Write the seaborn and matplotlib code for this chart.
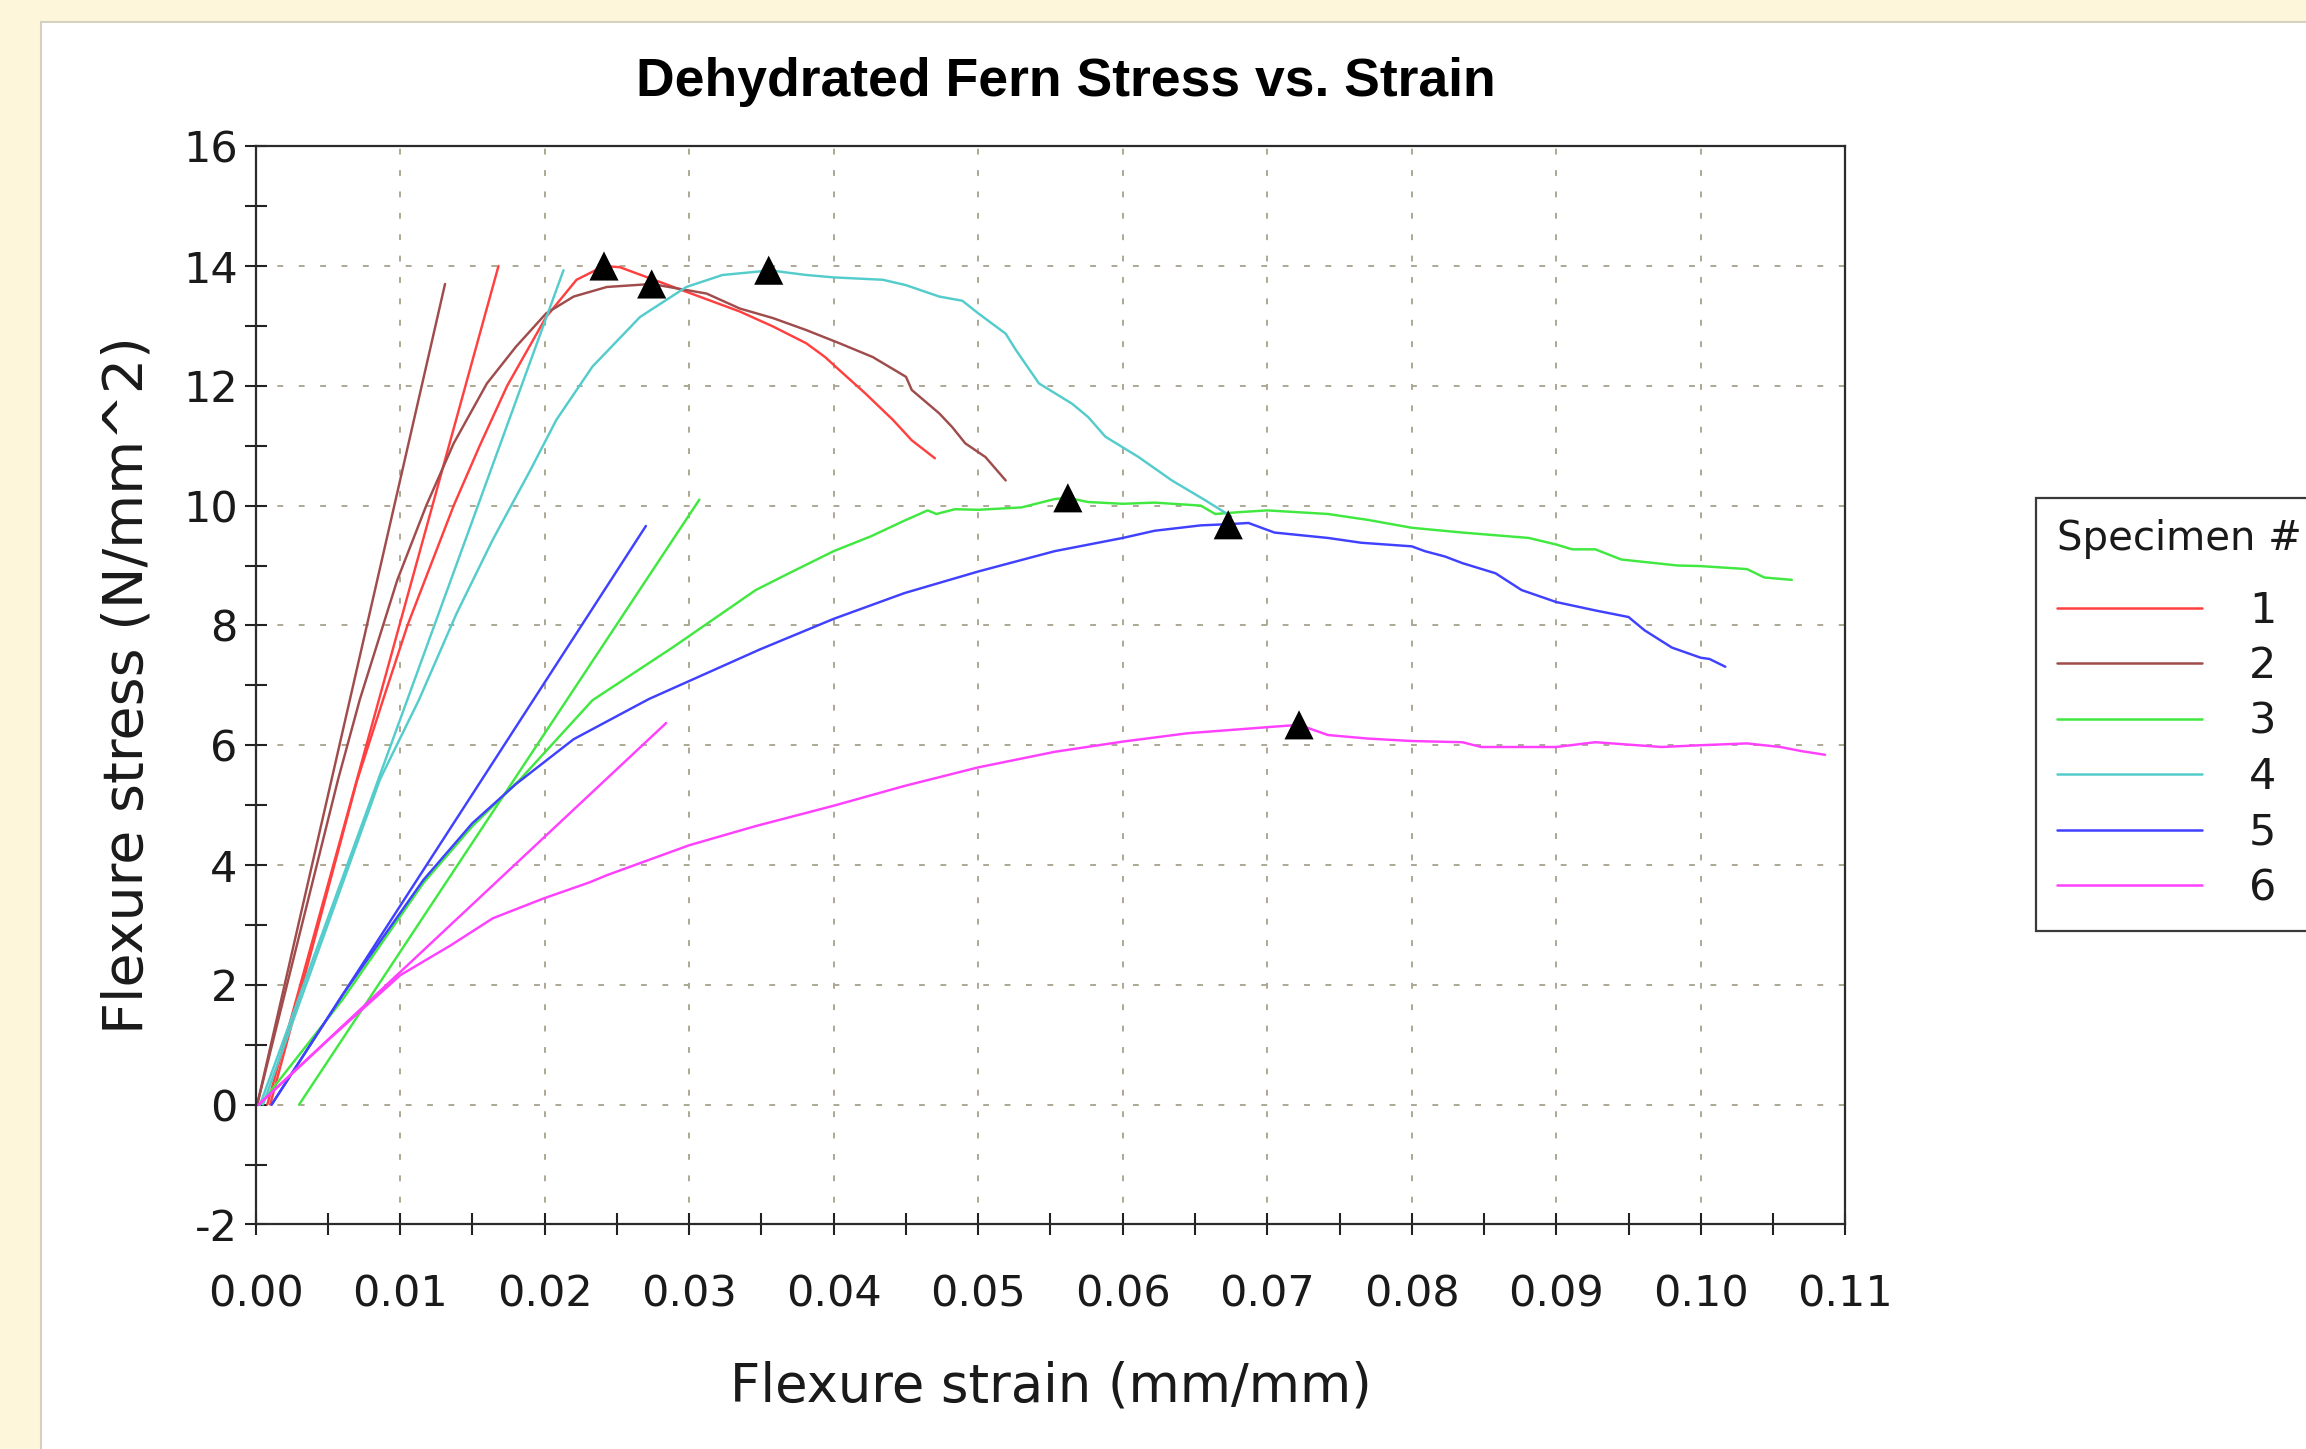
import pandas as pd
import seaborn as sns
import matplotlib.pyplot as plt
from matplotlib.lines import Line2D
from matplotlib.patches import Rectangle
from matplotlib.ticker import MultipleLocator, FormatStrFormatter

specimens = ['1', '2', '3', '4', '5', '6']
colors = ['#FF4040', '#A04C4C', '#40E840', '#55CCCC', '#4040FF', '#FF40FF']

# test curves: strain (mm/mm), stress (N/mm^2)
s1_strain = [0.0010, 0.0070, 0.0088, 0.0105, 0.0137, 0.0155, 0.0174, 0.0201, 0.0222, 0.0241,
             0.0252, 0.0289, 0.0335, 0.0358, 0.0381, 0.0394, 0.0404, 0.0422, 0.0441, 0.0454, 0.0470]
s1_stress = [0.0, 5.4, 6.75, 8.0, 10.0, 11.0, 12.0, 13.15, 13.77, 14.0,
             13.98, 13.65, 13.24, 12.99, 12.71, 12.48, 12.26, 11.87, 11.43, 11.09, 10.79]

s2_strain = [0.0001, 0.0057, 0.0072, 0.0098, 0.0118, 0.0137, 0.0160, 0.0180, 0.0201, 0.0220,
             0.0243, 0.0274, 0.0312, 0.0335, 0.0358, 0.0381, 0.0404, 0.0427, 0.0450, 0.0454,
             0.0473, 0.0482, 0.0491, 0.0505, 0.0519]
s2_stress = [0.0, 5.43, 6.76, 8.76, 10.0, 11.04, 12.04, 12.65, 13.21, 13.49,
             13.65, 13.70, 13.54, 13.29, 13.13, 12.93, 12.71, 12.48, 12.15, 11.93,
             11.54, 11.31, 11.04, 10.81, 10.42]

s3_strain = [0.0003, 0.0060, 0.0116, 0.0150, 0.0183, 0.0233, 0.0289, 0.0346, 0.0369, 0.0400,
             0.0426, 0.0449, 0.0465, 0.0471, 0.0484, 0.0500, 0.0530, 0.0553, 0.0562, 0.0576,
             0.0600, 0.0622, 0.0654, 0.0664, 0.0680, 0.0700, 0.0742, 0.0770, 0.0800, 0.0835,
             0.0881, 0.0900, 0.0911, 0.0927, 0.0945, 0.0984, 0.1000, 0.1032, 0.1044, 0.1063]
s3_stress = [0.0, 1.75, 3.7, 4.65, 5.43, 6.75, 7.64, 8.59, 8.87, 9.24,
             9.49, 9.75, 9.92, 9.86, 9.94, 9.93, 9.97, 10.11, 10.13, 10.06,
             10.03, 10.05, 10.0, 9.86, 9.89, 9.92, 9.86, 9.76, 9.63, 9.55,
             9.46, 9.35, 9.27, 9.27, 9.10, 9.0, 8.99, 8.94, 8.80, 8.76]

s4_strain = [0.0005, 0.0086, 0.0113, 0.0139, 0.0164, 0.0190, 0.0208, 0.0233, 0.0266, 0.0298,
             0.0323, 0.0349, 0.0355, 0.0381, 0.0400, 0.0434, 0.0450, 0.0473, 0.0489, 0.0500,
             0.0519, 0.0526, 0.0542, 0.0565, 0.0576, 0.0588, 0.0611, 0.0634, 0.0657, 0.0675]
s4_stress = [0.0, 5.43, 6.76, 8.2, 9.43, 10.59, 11.43, 12.32, 13.15, 13.65,
             13.85, 13.91, 13.93, 13.85, 13.81, 13.77, 13.68, 13.49, 13.42, 13.21,
             12.87, 12.60, 12.04, 11.70, 11.48, 11.15, 10.81, 10.42, 10.09, 9.82]

s5_strain = [0.0011, 0.0060, 0.0116, 0.0150, 0.0180, 0.0220, 0.0272, 0.0349, 0.0400, 0.0449,
             0.0500, 0.0553, 0.0600, 0.0622, 0.0654, 0.0673, 0.0687, 0.0696, 0.0705, 0.0742,
             0.0765, 0.0800, 0.0809, 0.0823, 0.0835, 0.0858, 0.0876, 0.0900, 0.0927, 0.0950,
             0.0961, 0.0980, 0.1000, 0.1006, 0.1017]
s5_stress = [0.0, 1.83, 3.75, 4.7, 5.35, 6.1, 6.77, 7.6, 8.11, 8.54,
             8.90, 9.24, 9.46, 9.58, 9.67, 9.69, 9.71, 9.63, 9.55, 9.46,
             9.38, 9.32, 9.24, 9.15, 9.04, 8.87, 8.59, 8.39, 8.25, 8.14,
             7.92, 7.63, 7.46, 7.44, 7.31]

s6_strain = [0.0002, 0.0052, 0.0100, 0.0135, 0.0164, 0.0199, 0.0231, 0.0243, 0.0300, 0.0346,
             0.0400, 0.0449, 0.0500, 0.0553, 0.0600, 0.0645, 0.0705, 0.0722, 0.0742, 0.0770,
             0.0800, 0.0835, 0.0848, 0.0900, 0.0927, 0.0973, 0.1000, 0.1032, 0.1055, 0.1070, 0.1086]
s6_stress = [0.0, 1.12, 2.16, 2.66, 3.11, 3.44, 3.71, 3.83, 4.33, 4.65,
             4.99, 5.32, 5.63, 5.89, 6.06, 6.20, 6.31, 6.34, 6.17, 6.11,
             6.07, 6.05, 5.97, 5.97, 6.05, 5.97, 6.0, 6.03, 5.97, 5.90, 5.84]

# modulus (fit) lines, each from (fit_strain0, 0) to (fit_strain1, fit_stress1)
fit_strain0 = [0.0008, 0.0001, 0.0030, 0.0003, 0.0011, 0.0002]
fit_strain1 = [0.0168, 0.0131, 0.0307, 0.0213, 0.0270, 0.0284]
fit_stress1 = [14.0, 13.7, 10.1, 13.93, 9.66, 6.37]

# peak markers
peak_strain = [0.0241, 0.0274, 0.0562, 0.0355, 0.0673, 0.0722]
peak_stress = [14.0, 13.70, 10.13, 13.93, 9.68, 6.34]

curves = {'1': (s1_strain, s1_stress), '2': (s2_strain, s2_stress), '3': (s3_strain, s3_stress),
          '4': (s4_strain, s4_stress), '5': (s5_strain, s5_stress), '6': (s6_strain, s6_stress)}

parts = []
for i, spec in enumerate(specimens):
    x, y = curves[spec]
    parts.append(pd.DataFrame({'strain': x, 'stress': y, 'specimen': spec, 'part': spec + '-test'}))
    parts.append(pd.DataFrame({'strain': [fit_strain0[i], fit_strain1[i]], 'stress': [0.0, fit_stress1[i]],
                               'specimen': spec, 'part': spec + '-fit'}))
df = pd.concat(parts, ignore_index=True)

sns.set_theme(style='ticks')
plt.rcParams['font.family'] = ['DejaVu Sans']
plt.rcParams['axes.unicode_minus'] = False

fig = plt.figure(figsize=(23.06, 14.49), dpi=100, facecolor='#FDF6DA')
fig.patches.append(Rectangle((41 / 2306, -0.01), 1.0, 1.01 - 22 / 1449, transform=fig.transFigure,
                             facecolor='white', edgecolor='#D6D1BF', lw=1.5, zorder=-10))

ax = fig.add_axes([0.1109, 0.155, 0.6893, 0.7441])
ax.set_facecolor('white')

sns.lineplot(data=df, x='strain', y='stress', hue='specimen', hue_order=specimens, units='part',
             estimator=None, sort=False, palette=colors, linewidth=1.75, legend=False, ax=ax)
sns.scatterplot(x=peak_strain, y=peak_stress, marker='^', s=440, color='black', edgecolor='none',
                legend=False, zorder=5, ax=ax)

ax.set_xlim(0, 0.11)
ax.set_ylim(-2, 16)
ax.xaxis.set_major_locator(MultipleLocator(0.01))
ax.xaxis.set_minor_locator(MultipleLocator(0.005))
ax.xaxis.set_major_formatter(FormatStrFormatter('%.2f'))
ax.yaxis.set_major_locator(MultipleLocator(2))
ax.yaxis.set_minor_locator(MultipleLocator(1))

ax.set_axisbelow(True)
ax.grid(True, which='major', color='#ADA894', linestyle=(0, (3, 8)), linewidth=1.4)

for sp in ax.spines.values():
    sp.set_visible(True)
    sp.set_color('#2B2B2B')
    sp.set_linewidth(1.6)

ax.tick_params(which='both', direction='inout', length=16, width=1.5, color='#222222',
               bottom=True, left=True, top=False, right=False)
ax.tick_params(axis='both', labelsize=31, labelcolor='#1A1A1A')
ax.tick_params(axis='x', pad=27)
ax.tick_params(axis='y', pad=5)

ax.set_xlabel('Flexure strain (mm/mm)', fontsize=38, color='#1A1A1A')
ax.set_ylabel('Flexure stress (N/mm^2)', fontsize=40, color='#1A1A1A')
ax.xaxis.set_label_coords(0.5, -0.126)
ax.yaxis.set_label_coords(-0.064, 0.5)

fig.text(0.4623, 0.9337, 'Dehydrated Fern Stress vs. Strain', ha='center', va='baseline',
         fontsize=38.5, fontweight='bold', family=['Liberation Sans', 'DejaVu Sans'], color='black')

handles = [Line2D([], [], color=c, lw=1.8) for c in colors]
leg = fig.legend(handles, specimens, title='Specimen #', loc='upper left',
                 bbox_to_anchor=(0.8828, 0.6565), bbox_transform=fig.transFigure,
                 frameon=True, fancybox=False, framealpha=1, facecolor='white', edgecolor='#3A3A3A',
                 fontsize=31, title_fontsize=29, handlelength=3.35, handletextpad=1.1,
                 labelspacing=0.313, borderpad=0.5, borderaxespad=0, alignment='left')
leg.get_frame().set_linewidth(1.6)
leg._legend_box.sep = 22
for t in leg.get_texts():
    t.set_color('#1A1A1A')
leg.get_title().set_color('#1A1A1A')

fig.savefig('out.png', dpi=100, facecolor=fig.get_facecolor())
